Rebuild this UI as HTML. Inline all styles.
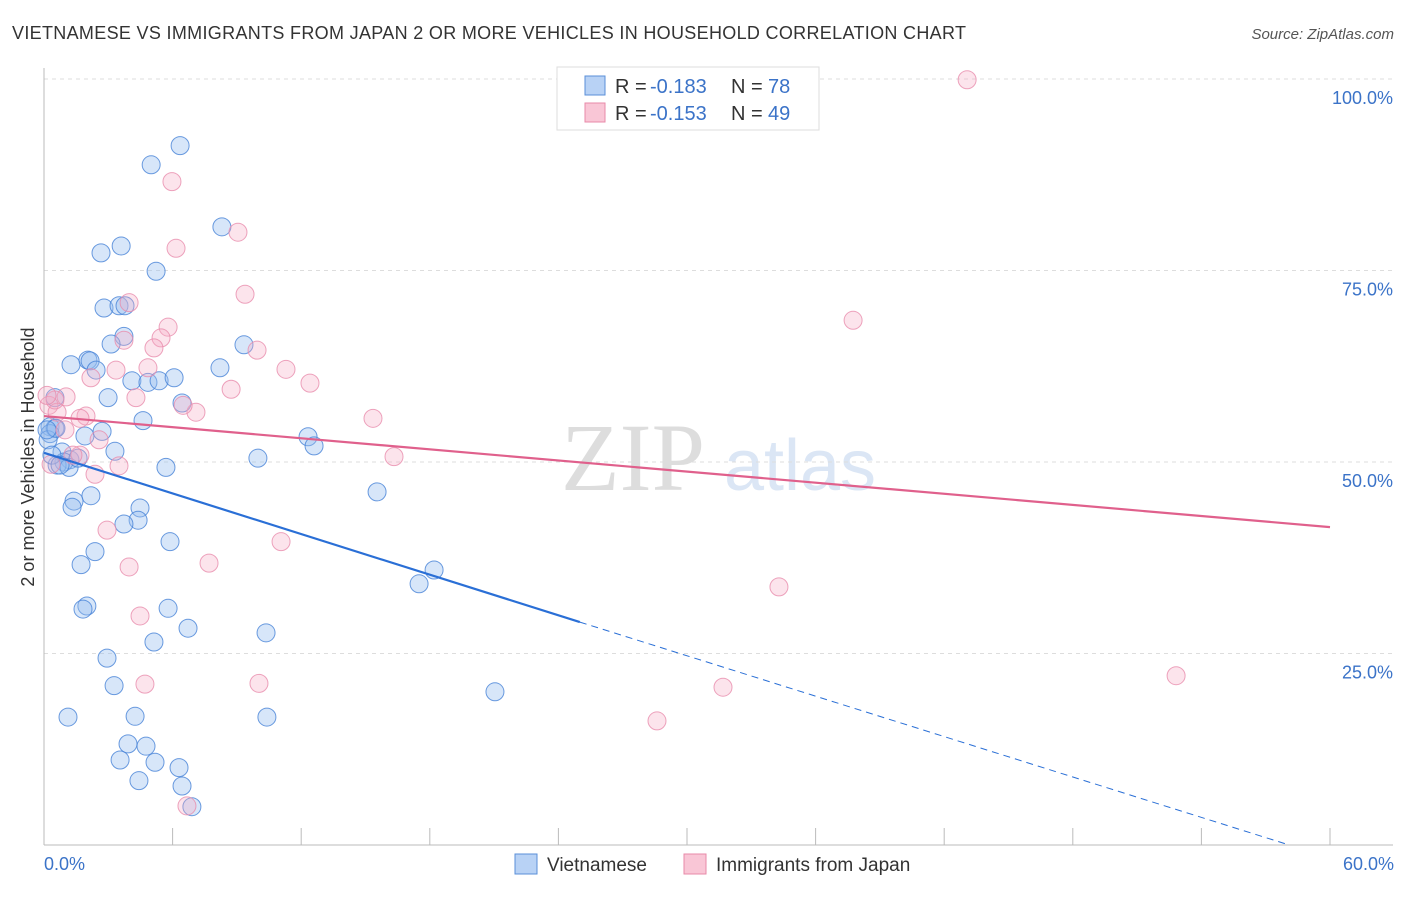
<!DOCTYPE html>
<html><head><meta charset="utf-8"><style>
body{margin:0;background:#fff;font-family:"Liberation Sans",sans-serif}
</style></head><body>
<svg id="c" width="1406" height="892" xmlns="http://www.w3.org/2000/svg">
<text x="12" y="39" font-size="18" fill="#333" textLength="954" lengthAdjust="spacing">VIETNAMESE VS IMMIGRANTS FROM JAPAN 2 OR MORE VEHICLES IN HOUSEHOLD CORRELATION CHART</text>
<text x="1394" y="39" font-size="15" fill="#555" font-style="italic" text-anchor="end">Source: ZipAtlas.com</text>
<text x="633" y="490" font-size="96" fill="#ddd" font-family="Liberation Serif" text-anchor="middle">ZIP</text>
<text x="800" y="490" font-size="72" fill="#dbe6f5" text-anchor="middle">atlas</text>
<g id="grid"></g><g id="pts"></g><g id="lines"></g>
<text transform="translate(34,457) rotate(-90)" font-size="18" fill="#333" text-anchor="middle">2 or more Vehicles in Household</text>
<text x="44" y="870" font-size="18" fill="#3b73c8">0.0%</text>
<text x="1394" y="870" font-size="18" fill="#3b73c8" text-anchor="end">60.0%</text>
<g>
<rect x="557" y="67" width="262" height="63" fill="#fff" stroke="#ddd"/>
<rect x="585" y="76" width="20" height="19" fill="#b8d2f5" stroke="#5a8fd8"/>
<rect x="585" y="103" width="20" height="19" fill="#f9c6d6" stroke="#e88aa8"/>
<text x="615" y="93" font-size="20" fill="#333">R =</text>
<text x="650" y="93" font-size="20" fill="#3b73c8">-0.183</text>
<text x="731" y="93" font-size="20" fill="#333">N =</text>
<text x="768" y="93" font-size="20" fill="#3b73c8">78</text>
<text x="615" y="120" font-size="20" fill="#333">R =</text>
<text x="650" y="120" font-size="20" fill="#3b73c8">-0.153</text>
<text x="731" y="120" font-size="20" fill="#333">N =</text>
<text x="768" y="120" font-size="20" fill="#3b73c8">49</text>
</g>
<g>
<rect x="515" y="854" width="22" height="20" fill="#b8d2f5" stroke="#5a8fd8"/>
<text x="547" y="871" font-size="19" fill="#333">Vietnamese</text>
<rect x="684" y="854" width="22" height="20" fill="#f9c6d6" stroke="#e88aa8"/>
<text x="716" y="871" font-size="19" fill="#333">Immigrants from Japan</text>
</g>
</svg>
<script>
const yTicks=[25,50,75,100];
const yTickLabels=["25.0%","50.0%","75.0%","100.0%"];
const xTicks=[0,6,12,18,24,30,36,42,48,54,60];
const blueX=[6.35,5.0,8.3,3.6,2.66,5.23,2.8,3.5,3.78,3.73,3.13,9.33,2.05,2.15,1.26,2.43,8.21,4.1,4.85,5.37,6.07,2.99,0.51,6.44,4.62,0.28,0.51,1.91,2.71,12.32,12.6,3.31,0.84,9.98,1.21,0.93,0.61,1.17,5.69,15.54,2.19,1.4,1.31,4.48,4.39,3.73,5.88,2.38,1.73,18.2,17.5,2.0,1.82,5.79,6.72,10.36,5.13,2.94,21.04,3.27,1.12,4.25,10.4,3.92,4.76,3.55,5.18,6.3,4.43,6.44,6.9,0.28,0.19,0.37,0.75,1.59,0.56,0.14];
const blueY=[91.3,88.8,80.7,78.2,77.3,74.9,70.1,70.4,70.4,66.4,65.4,65.3,63.3,63.2,62.7,62.0,62.3,60.6,60.4,60.6,61.0,58.4,58.4,57.7,55.4,54.6,54.4,53.4,54.0,53.3,52.1,51.4,51.3,50.5,50.3,50.0,49.6,49.3,49.3,46.1,45.6,44.9,44.1,44.0,42.4,41.9,39.6,38.3,36.6,35.9,34.1,31.2,30.8,30.9,28.3,27.7,26.5,24.4,20.0,20.8,16.7,16.8,16.7,13.2,12.9,11.1,10.8,10.1,8.4,7.7,5.0,53.7,52.9,50.9,49.6,50.5,54.4,54.2];
const pinkX=[43.07,5.97,6.16,9.05,9.38,3.97,5.79,5.46,5.13,3.73,9.94,4.85,3.36,2.19,11.29,8.73,12.41,4.29,1.03,0.23,0.61,7.09,6.49,1.96,1.68,15.35,0.98,2.57,16.33,1.68,0.33,3.5,2.38,2.94,11.06,7.7,3.97,34.29,4.48,37.75,4.71,10.03,31.68,28.6,52.82,6.67,0.51,0.14,1.35];
const pinkY=[99.9,86.6,77.9,80.0,71.9,70.8,67.6,66.2,64.9,65.9,64.6,62.3,62.0,61.0,62.1,59.5,60.3,58.4,58.5,57.4,56.5,56.5,57.4,56.0,55.7,55.7,54.2,52.9,50.7,50.9,49.7,49.5,48.4,41.1,39.6,36.8,36.3,33.7,29.9,68.5,21.0,21.1,20.6,16.2,22.1,5.1,58.1,58.7,50.9];
const blueTrend=[[0,51.2],[25,29.1],[58.1,0]];
const pinkTrend=[[0,56.0],[60,41.5]];
const NS="http://www.w3.org/2000/svg";
const X=v=>44+v*(1286/60), Y=v=>845-v*7.66;
function mk(t,a,p){const e=document.createElementNS(NS,t);for(const k in a)e.setAttribute(k,a[k]);document.getElementById(p).appendChild(e);return e;}
let e;
yTicks.forEach((t,i)=>{
 e=mk('line',{x1:44,x2:1393,y1:Y(t),y2:Y(t),stroke:'#ddd','stroke-dasharray':'4,4'},'grid');
 
 
 e=mk('text',{x:1393,y:Y(t)+25,'font-size':18,fill:'#3b73c8','text-anchor':'end'},'grid');
 e.textContent=yTickLabels[i];
 
 
});
e=mk('line',{x1:44,x2:44,y1:68,y2:845,stroke:'#bbb'},'grid');


e=mk('line',{x1:44,x2:1393,y1:845,y2:845,stroke:'#bbb'},'grid');


xTicks.forEach(t=>{
 e=mk('line',{x1:X(t),x2:X(t),y1:828,y2:845,stroke:'#bbb'},'grid');
 
 
});
blueX.forEach((v,i)=>{
 e=mk('circle',{cx:X(v),cy:Y(blueY[i]),r:9,fill:'rgba(150,190,240,0.38)',stroke:'rgba(70,130,215,0.8)','stroke-width':1},'pts');
 
 
});
pinkX.forEach((v,i)=>{
 e=mk('circle',{cx:X(v),cy:Y(pinkY[i]),r:9,fill:'rgba(245,170,195,0.32)',stroke:'rgba(232,140,172,0.8)','stroke-width':1},'pts');
 
 
});
e=mk('line',{x1:X(blueTrend[0][0]),y1:Y(blueTrend[0][1]),x2:X(blueTrend[1][0]),y2:Y(blueTrend[1][1]),stroke:'#2a6fd6','stroke-width':2.2},'lines');


e=mk('line',{x1:X(blueTrend[1][0]),y1:Y(blueTrend[1][1]),x2:X(blueTrend[2][0]),y2:Y(blueTrend[2][1]),stroke:'#2a6fd6','stroke-width':1,'stroke-dasharray':'7,5'},'lines');


e=mk('line',{x1:X(pinkTrend[0][0]),y1:Y(pinkTrend[0][1]),x2:X(pinkTrend[1][0]),y2:Y(pinkTrend[1][1]),stroke:'#e0608c','stroke-width':2.2},'lines');


</script>
</body></html>
